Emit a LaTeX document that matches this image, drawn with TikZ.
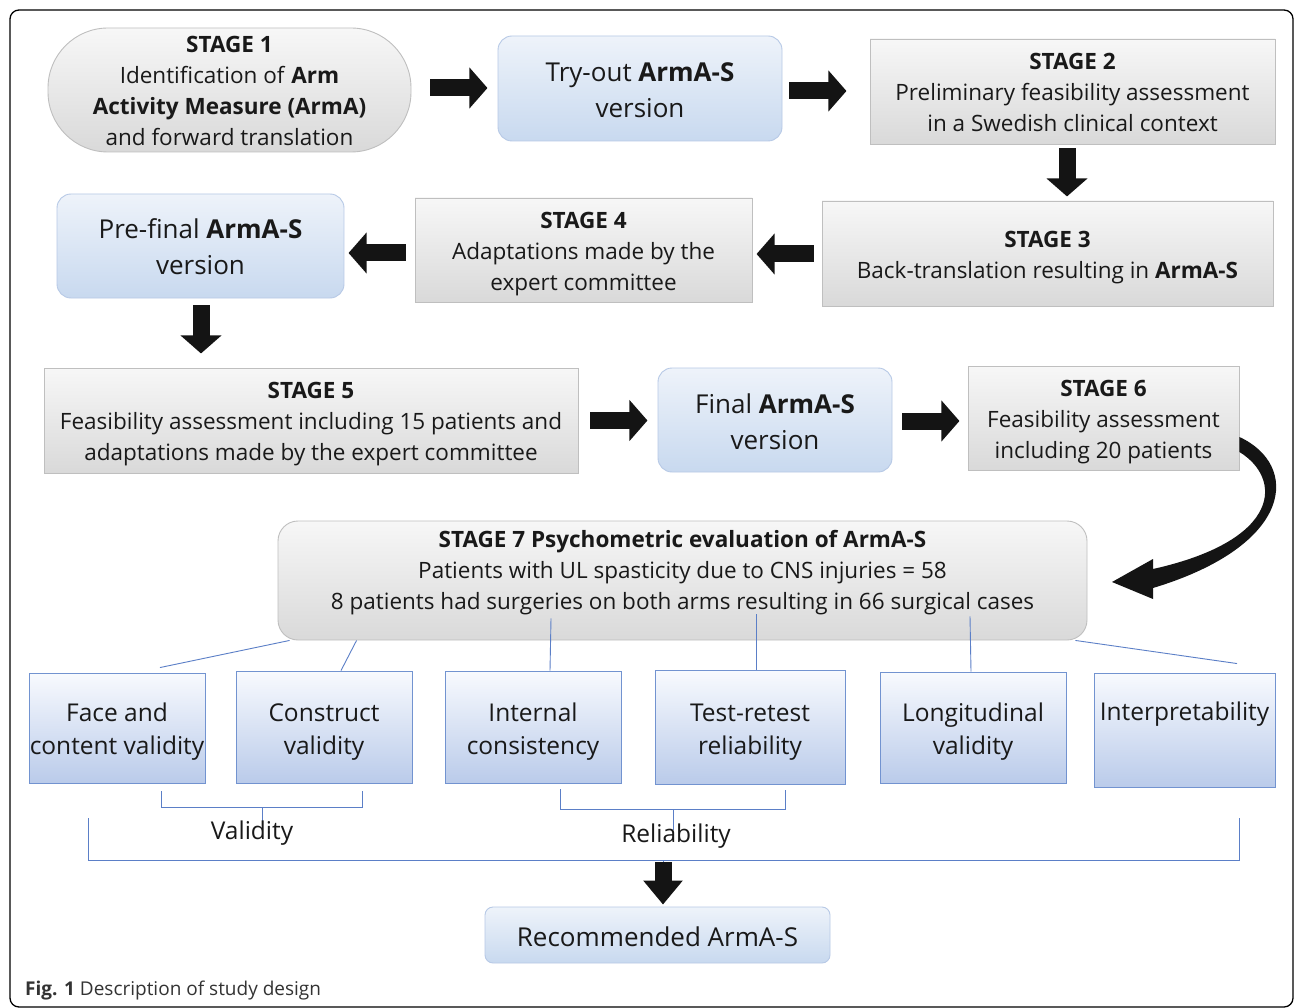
\documentclass[tikz,border=0pt]{standalone}
\usepackage{fontspec}
\setmainfont{Open Sans}
\usetikzlibrary{arrows.meta,calc}
\definecolor{grayborder}{HTML}{BFBFBF}
\definecolor{graytop}{HTML}{F7F7F7}
\definecolor{graybot}{HTML}{D9D9D9}
\definecolor{bluetop}{HTML}{EEF3FA}
\definecolor{bluebot}{HTML}{C8D9EF}
\definecolor{blueborder}{HTML}{B7C9E6}
\definecolor{smalltop}{HTML}{F8FAFE}
\definecolor{smallbot}{HTML}{BACBEA}
\definecolor{smallborder}{HTML}{7293D0}
\definecolor{conncol}{HTML}{5B7FC7}
\definecolor{arrowcol}{HTML}{141414}
\tikzset{
  stagebox/.style={draw=grayborder, line width=0.9pt, top color=graytop, bottom color=graybot, inner sep=0pt},
  stagetxt/.style={align=center, inner sep=0pt, font=\fontsize{22.5pt}{31pt}\selectfont, text=black!90},
  bluebox/.style={draw=blueborder, line width=0.9pt, top color=bluetop, bottom color=bluebot,
    rounded corners=14pt, inner sep=0pt},
  bluetxt/.style={align=center, inner sep=0pt, font=\fontsize{26pt}{36pt}\selectfont, text=black!90},
  smallbox/.style={draw=smallborder, line width=0.9pt, top color=smalltop, bottom color=smallbot, inner sep=0pt},
  smalltxt/.style={align=center, inner sep=0pt, font=\fontsize{24.5pt}{33pt}\selectfont, text=black!90},
  barrow/.style={arrowcol, line width=17pt, -{Triangle[length=18pt,width=40pt]}},
  conn/.style={conncol, line width=0.9pt},
  lbl/.style={inner sep=0pt, font=\fontsize{24.5pt}{33pt}\selectfont, text=black!90}
}
\begin{document}
\begin{tikzpicture}[x=1pt,y=-1pt]
\useasboundingbox (0,0) rectangle (1295,1008);
\fill[white] (0,0) rectangle (1295,1008);
\draw[line width=1.3pt, rounded corners=9pt] (10,10) rectangle (1293,1007);

% row 1
\node[stagebox, rounded corners=60pt, minimum width=363pt, minimum height=124pt] (s1) at (229.5,90) {};
\node[stagetxt] (s1t) at ($(s1)+(0,0.5)$)
  {\textbf{STAGE 1}\\Identification of \textbf{Arm}\\\textbf{Activity Measure (ArmA)}\\and forward translation};
\node[bluebox, minimum width=284pt, minimum height=105pt] (try) at (640,88.5) {};
\node[bluetxt] (tryt) at ($(try)+(0,2)$) {Try-out \textbf{ArmA-S}\\version};
\node[stagebox, minimum width=405pt, minimum height=105pt] (s2) at (1072.5,91.5) {};
\node[stagetxt] (s2t) at ($(s2)+(0,1)$)
  {\textbf{STAGE 2}\\Preliminary feasibility assessment\\in a Swedish clinical context};
% row 2
\node[stagebox, minimum width=451pt, minimum height=105pt] (s3) at (1047.5,253.5) {};
\node[stagetxt] (s3t) at ($(s3)+(0,4)$)
  {\textbf{STAGE 3}\\Back-translation resulting in \textbf{ArmA-S}};
\node[stagebox, minimum width=337pt, minimum height=104pt] (s4) at (583.5,250) {};
\node[stagetxt] (s4t) at ($(s4)+(0,4)$)
  {\textbf{STAGE 4}\\Adaptations made by the\\expert committee};
\node[bluebox, minimum width=287pt, minimum height=104pt] (pre) at (200.5,246) {};
\node[bluetxt] (pret) at ($(pre)+(0,1)$) {Pre-final \textbf{ArmA-S}\\version};
% row 3
\node[stagebox, minimum width=534pt, minimum height=105pt] (s5) at (311,420.5) {};
\node[stagetxt] (s5t) at ($(s5)+(0,4)$)
  {\textbf{STAGE 5}\\Feasibility assessment including 15 patients and\\adaptations made by the expert committee};
\node[bluebox, minimum width=234pt, minimum height=104pt] (fin) at (775,420) {};
\node[bluetxt] (fint) at ($(fin)+(0,2)$) {Final \textbf{ArmA-S}\\version};
\node[stagebox, minimum width=271pt, minimum height=104pt] (s6) at (1103.5,418) {};
\node[stagetxt] (s6t) at ($(s6)+(0,4)$)
  {\textbf{STAGE 6}\\Feasibility assessment\\including 20 patients};
% stage 7
\node[stagebox, rounded corners=20pt, minimum width=809pt, minimum height=119pt] (s7) at (682.5,580.5) {};
\node[stagetxt] (s7t) at (682.5,573)
  {\textbf{STAGE 7 Psychometric evaluation of ArmA-S}\\Patients with UL spasticity due to CNS injuries = 58\\8 patients had surgeries on both arms resulting in 66 surgical cases};
% small boxes
\node[smallbox, minimum width=176pt, minimum height=110pt] (face) at (117,728) {};
\node[smalltxt] (facet) at ($(face)+(0,4)$) {Face and\\content validity};
\node[smallbox, minimum width=176pt, minimum height=112pt] (cons) at (324,727) {};
\node[smalltxt] (const) at ($(cons)+(0,5)$) {Construct\\validity};
\node[smallbox, minimum width=176pt, minimum height=112pt] (intc) at (533,727) {};
\node[smalltxt] (intct) at ($(intc)+(0,5)$) {Internal\\consistency};
\node[smallbox, minimum width=190pt, minimum height=114pt] (test) at (750,727) {};
\node[smalltxt] (testt) at ($(test)+(0,5)$) {Test-retest\\reliability};
\node[smallbox, minimum width=186pt, minimum height=111pt] (longi) at (973,727.5) {};
\node[smalltxt] (longit) at ($(longi)+(0,4)$) {Longitudinal\\validity};
\node[smallbox, minimum width=181pt, minimum height=114pt] (interp) at (1184.5,730) {};
\node[smalltxt] (interpt) at ($(interp)+(0,-15.5)$) {Interpretability};
% recommended
\node[bluebox, rounded corners=8pt, minimum width=345pt, minimum height=56pt] (rec) at (657.5,935) {};
\node[bluetxt] (rect) at ($(rec)+(0,2)$) {Recommended ArmA-S};

% block arrows
\draw[barrow] ($(s1.east)+(19,-2)$) -- ++(57,0);
\draw[barrow] ($(try.east)+(7,2.5)$) -- ++(57,0);
\draw[barrow] ($(s2.south)+(-5.5,4)$) -- ++(0,48);
\draw[barrow] ($(s3.west)+(-8,0.5)$) -- ++(-57,0);
\draw[barrow] ($(s4.west)+(-9,3)$) -- ++(-57,0);
\draw[barrow] ($(pre.south)+(0.5,7)$) -- ++(0,48);
\draw[barrow] ($(s5.east)+(12,0)$) -- ++(57,0);
\draw[barrow] ($(fin.east)+(10,1)$) -- ++(57,0);
% curved arrow s6 -> s7
\fill[arrowcol] ($(s6.east)+(0,19)$) coordinate (cA)
  .. controls (1300,465) and (1295,545) .. (1153,588)
  -- (1153,599) -- (1112,582) -- (1153,559) -- (1153,569)
  .. controls (1283,540) and (1282,478) .. ($(s6.east)+(0,34)$) -- cycle;

% connectors from stage 7
\draw[conn] ($(s7.south west)+(12,0)$) -- ($(face.north)+(43,-5)$);
\draw[conn] ($(s7.south west)+(79,0)$) -- ($(cons.north)+(17,0)$);
\draw[conn] ($(s7.south)+(-131.5,-22)$) -- ($(intc.north)+(17,0)$);
\draw[conn] ($(s7.south)+(73.5,-26)$) -- ($(test.north)+(6,0)$);
\draw[conn] ($(s7.south)+(287.5,-24)$) -- ($(longi.north)+(-2,0)$);
\draw[conn] ($(s7.south east)+(-12,0)$) -- ($(interp.north)+(52.5,-9)$);

% brackets
\draw[conn] ($(face.south)+(44,8)$) -- ++(0,16) coordinate (vl) -| ($(cons.south)+(38,8)$);
\draw[conn] ($(vl)+(101,0)$) -- ++(0,15);
\node[lbl] (val) at (252,833) {Validity};
\draw[conn] ($(intc.south)+(27,6)$) -- ++(0,20) coordinate (rl) -| ($(test.south)+(35,6)$);
\draw[conn] ($(rl)+(113,0)$) -- ++(0,21);
\node[lbl] (rel) at (676,836) {Reliability};
\draw[conn] (88,818) -- (88,860) -- (1239,860) -- (1239,818);
\draw[conn] (663,860) -- (663,863);
\draw[arrowcol, line width=17pt, -{Triangle[length=24pt,width=38pt]}] (663,862) -- ($(rec.north)+(5.5,-2)$);

% caption
\node[anchor=west, inner sep=0pt, font=\fontsize{19pt}{21pt}\selectfont, text=black!80] (cap) at (25,991)
  {\textbf{Fig. 1} Description of study design};
\end{tikzpicture}
\end{document}
